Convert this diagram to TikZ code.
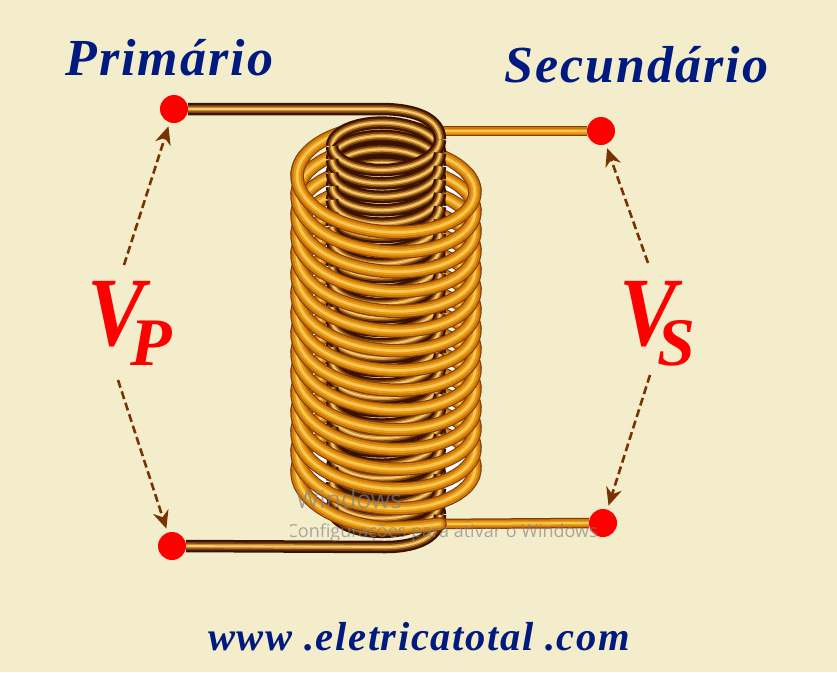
\documentclass[tikz,border=0pt]{standalone}
\usepackage{fontspec}
\setmainfont{Liberation Serif}
\newfontfamily\wmfont{Open Sans}
\newfontfamily\lblfont[LetterSpace=4]{Liberation Serif Bold Italic}
\usetikzlibrary{arrows.meta}
\definecolor{bgc}{HTML}{F4EDCB}
\definecolor{navyc}{HTML}{001A80}
\definecolor{arrc}{HTML}{7A3300}
\newcommand{\goldtube}[1]{%
 \draw[line width=13.5pt,color={rgb,255:red,130;green,62;blue,10}]#1;
 \draw[line width=11.2pt,color={rgb,255:red,205;green,120;blue,10}]#1;
 \draw[line width=7pt,color={rgb,255:red,232;green,156;blue,20}]#1;
 \draw[line width=2.8pt,color={rgb,255:red,248;green,198;blue,84}]#1;}
\newcommand{\thintube}[1]{%
 \draw[line width=10.5pt,color={rgb,255:red,130;green,62;blue,10}]#1;
 \draw[line width=8pt,color={rgb,255:red,205;green,120;blue,10}]#1;
 \draw[line width=5pt,color={rgb,255:red,232;green,156;blue,20}]#1;
 \draw[line width=2pt,color={rgb,255:red,248;green,198;blue,84}]#1;}
\newcommand{\darktube}[1]{%
 \draw[line width=12.5pt,color={rgb,255:red,58;green,18;blue,4}]#1;
 \draw[line width=8pt,color={rgb,255:red,120;green,64;blue,14}]#1;
 \draw[line width=4.6pt,color={rgb,255:red,205;green,140;blue,36}]#1;
 \draw[line width=1.8pt,color={rgb,255:red,242;green,204;blue,124}]#1;}
\tikzset{
 dotn/.style={circle,fill=red,inner sep=0pt,minimum size=28pt},
 vlt/.style={arrc,line width=2.6pt,dash pattern=on 8pt off 4pt,shorten >=4pt,-{Stealth[length=18pt,width=16pt]}},
 titlet/.style={text=navyc,inner sep=0pt,font=\lblfont\fontsize{52}{52}\selectfont},
 volt/.style={text=red,inner sep=0pt,anchor=base west,font=\lblfont\fontsize{98}{98}\selectfont},
 wmt/.style={text=gray,opacity=.65,inner sep=0pt,anchor=west}
}
\begin{document}
\begin{tikzpicture}[x=1pt,y=-1pt,line join=round]
\useasboundingbox (0,0) rectangle (837,672);
\fill[bgc] (0,0) rectangle (837,672);
\def\pO{19.73}\def\rO{48}\def\pI{13.4}\def\rI{27}
% white seen through the outer coil
\fill[white] (386,188) ellipse [x radius=84,y radius=42];
\fill[white] (302,188) rectangle (470,480);
\fill[white] (386,480) ellipse [x radius=84,y radius=42];
% outer coil, back
\foreach \k in {0,...,15}{
 \pgfmathsetmacro\L{232+\pO*\k}
 \ifnum\k=0 \def\tend{300}\else\def\tend{360}\fi
 \goldtube{plot[domain=180:\tend,samples=26] ({386+89*cos(\x)},{\L-\rO+\rO*sin(\x)-\pO*(\x-90)/360+3*cos(\x)})}
}
\node[dotn] (dp) at (174,109) {};
\node[dotn] (dq) at (172,546) {};
\node[dotn] (ds) at (601,131) {};
\node[dotn] (dt) at (603,523) {};
% secondary upper lead
\coordinate (sup) at (425,131);
\thintube{(sup) -- (ds.west)}
% inner coil
\fill[black!60!arrc] (334,140) rectangle (438,520);
\foreach \k in {0,...,27}{
 \pgfmathsetmacro\Y{139.6+\pI*\k}
 \darktube{plot[domain=180:360,samples=22] ({386+54*cos(\x)},{\Y+\rI*sin(\x)+\pI*\x/360})}
}
\coordinate (ti) at (440,139.6);
\coordinate (tb) at (440,514.8);
\darktube{(dp.east) -- (380,109) .. controls (418,109) and (440,120) .. (ti)}
\foreach \k in {0,...,27}{
 \pgfmathsetmacro\Y{139.6+\pI*\k}
 \darktube{plot[domain=0:180,samples=22] ({386+54*cos(\x)},{\Y+\rI*sin(\x)+\pI*\x/360})}
}
\darktube{(tb) .. controls (440,535) and (420,547) .. (385,547) -- (dq.east)}
% outer coil, front: lowest first, each band tucks under the one above
\coordinate (wj) at (430,524);
\thintube{(wj) -- (dt.west)}
\pgfmathsetmacro\L{232+\pO*15}
\begin{scope}[line cap=round]
\goldtube{plot[domain=205:90,samples=18] ({386+89*cos(\x)},{\L-\rO+\rO*sin(\x)-\pO*(\x-90)/360+3*cos(\x)}) .. controls (405,528) and (425,526) .. (440,524)}
\end{scope}
\foreach \k in {14,13,...,0}{
 \pgfmathsetmacro\L{232+\pO*\k}
 \goldtube{plot[domain=-25:205,samples=34] ({386+89*cos(\x)},{\L-\rO+\rO*sin(\x)-\pO*(\x-90)/360+3*cos(\x)})}
}
% watermark
\begin{scope}
\clip (290,470) rectangle (620,560);
\node[wmt,font=\wmfont\fontsize{25}{25}\selectfont] at (296,499) {Windows};
\node[wmt,font=\wmfont\fontsize{18}{18}\selectfont,anchor=east] at (598,533) {Configurações para ativar o Windows};
\end{scope}
% labels
\node[titlet,anchor=west] (tp) at (65,58) {Primário};
\node[titlet,anchor=west] (ts) at (504,65) {Secundário};
\node[volt] (vp) at (87.5,345) {\scalebox{.88}[1]{V}\kern-15pt\lower20pt\hbox{\fontsize{68}{68}\selectfont P}};
\node[volt] (vs) at (619.5,345) {\scalebox{.88}[1]{V}\kern-20pt\lower20pt\hbox{\fontsize{68}{68}\selectfont S}};
\node[text=navyc,inner sep=0pt,font=\lblfont\fontsize{40.5}{40.5}\selectfont] (web) at (419,637) {www .eletricatotal .com};
% arrows
\coordinate (a1) at (124,265);
\coordinate (a2) at (118,380);
\coordinate (a3) at (648,263);
\coordinate (a4) at (650,375);
\draw[vlt] (a1) -- (dp);
\draw[vlt] (a2) -- (dq);
\draw[vlt] (a3) -- (ds);
\draw[vlt] (a4) -- (dt);
\end{tikzpicture}
\end{document}
